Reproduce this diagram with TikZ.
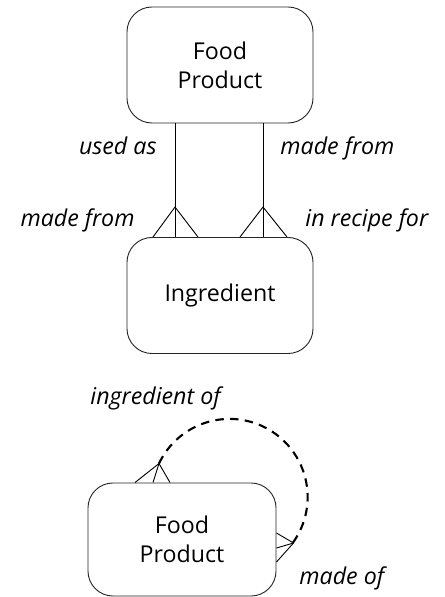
\documentclass[tikz,border=0pt]{standalone}
\usepackage{fontspec}
\setmainfont{Open Sans}
\usetikzlibrary{calc}

\begin{document}
\begin{tikzpicture}[x=0.025cm,y=0.025cm,line width=0.65pt,
                    font=\fontsize{16.5}{20.6}\selectfont]
  \tikzstyle{entity}=[rectangle,rounded corners=0.625cm,draw=black!85,fill=white,
                      minimum width=4.65cm,minimum height=2.9cm,align=center,inner sep=0pt]
  \tikzstyle{role}=[inner sep=0pt,font=\fontsize{16.5}{20.6}\selectfont\itshape]
  \tikzstyle{loopline}=[line width=1.5pt,dash pattern=on 6pt off 4.5pt]

  \useasboundingbox (0,0) rectangle (445,597);

  \node[entity] (FP)      at (220,532)   {Food\\Product};
  \node[entity] (I)       at (220,301.5) {Ingredient};
  \node[entity,minimum width=4.7cm,minimum height=2.825cm] (FP2) at (182,57.5) {Food\\Product};

  % the two relationships between Food Product and Ingredient
  \coordinate (a1) at ($(FP.south)+(-45,0)$);
  \coordinate (a2) at ($(I.north)+(-45,0)$);
  \coordinate (b1) at ($(FP.south)+(43,0)$);
  \coordinate (b2) at ($(I.north)+(43,0)$);
  \draw (a1) -- (a2);
  \draw (b1) -- (b2);
  \draw ($(a2)+(-22,0)$) -- ($(a2)+(0,30)$) -- ($(a2)+(23,0)$);
  \draw ($(b2)+(-23,0)$) -- ($(b2)+(0,30)$) -- ($(b2)+(24,0)$);

  \node[role,anchor=base east] (usedas)    at (157,442) {used as};
  \node[role,anchor=base west] (madefrom1) at (280,442) {made from};
  \node[role,anchor=base east] (madefrom2) at (135,370) {made from};
  \node[role,anchor=base west] (inrecipe)  at (305,370) {in recipe for};

  % recursive relationship
  \coordinate (c1) at ($(FP2.north)+(-23,19)$);
  \coordinate (c2) at ($(FP2.east)+(17,-3.5)$);
  \draw ($(FP2.north)+(-47,0)$) -- (c1) -- ($(FP2.north)+(-12,0)$);
  \draw ($(FP2.north)+(-29,0)$) -- (c1);
  \draw ($(FP2.east)+(0,6.5)$) -- (c2) -- ($(FP2.east)+(0,-22.5)$);
  \draw ($(FP2.east)+(0,-8.5)$) -- (c2);
  \draw[loopline] (c1) arc[start angle=154.6,end angle=-35.7,radius=78.1];

  \node[role,anchor=base west] (ingof)  at (90,192) {ingredient of};
  \node[role,anchor=base west] (madeof) at (299,12) {made of};
\end{tikzpicture}
\end{document}
